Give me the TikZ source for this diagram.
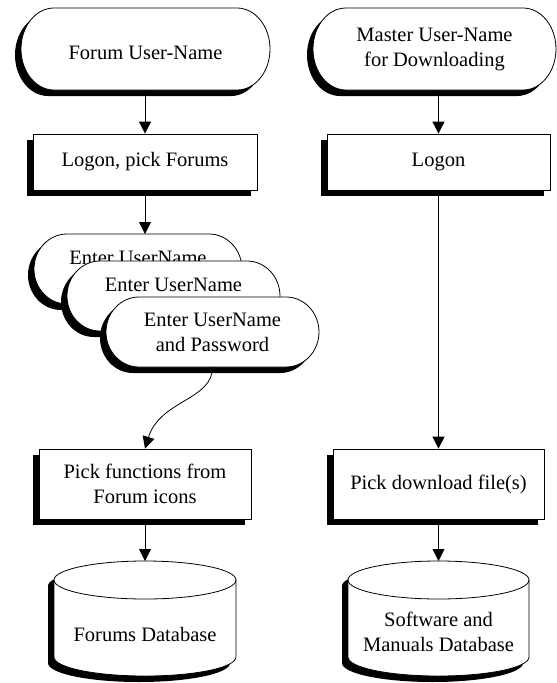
\documentclass[tikz,border=0pt]{standalone}
\usepackage{fontspec}
\setmainfont{Liberation Serif}
\usetikzlibrary{shadows,arrows.meta,calc}
\tikzset{
  shd/.style={drop shadow={shadow xshift=-6pt,shadow yshift=-6pt,opacity=1,fill=black}},
  outline/.style={draw=black,line width=0.8pt,fill=white,shd},
  txt/.style={font=\fontsize{20.5}{25}\selectfont,align=center},
  boxnode/.style={rectangle,outline,txt,inner sep=2pt},
  lbl/.style={rectangle,inner sep=0pt,outer sep=0pt,txt},
  conn/.style={draw=black,line width=0.8pt,-{Triangle[width=12pt,length=12pt]}},
}
% name, cx, cy, width, half height, text
\newcommand\termnode[6]{%
  \path[outline] ({#2-#4/2+33},{#3-#5}) -- ({#2+#4/2-33},{#3-#5})
    arc[start angle=90,end angle=-90,x radius=33pt,y radius=#5pt]
    -- ({#2-#4/2+33},{#3+#5})
    arc[start angle=270,end angle=90,x radius=33pt,y radius=#5pt] -- cycle;
  \node[lbl,minimum width={#4*1pt},minimum height={2*#5*1pt}] (#1) at (#2,#3) {#6};
}
% name, cx, top, rx, height, text, text cy
\newcommand\dbnode[7]{%
  \path[outline] ({#2-#4},{#3+19}) -- ({#2-#4},{#3+#5-19})
    arc[start angle=180,end angle=360,x radius=#4pt,y radius=19pt]
    -- ({#2+#4},{#3+19})
    arc[start angle=0,end angle=180,x radius=#4pt,y radius=19pt] -- cycle;
  \draw[line width=0.8pt] ({#2-#4},{#3+19})
    arc[start angle=180,end angle=360,x radius=#4pt,y radius=19pt];
  \coordinate (#1) at (#2,#3);
  \node[lbl] (#1t) at (#2,#7) {#6};
}
\begin{document}
\begin{tikzpicture}[x=1pt,y=-1pt]
\useasboundingbox (0,0) rectangle (557,683);

% left column
\termnode{t1}{145.5}{49}{249}{41}{\raisebox{-10pt}[0pt][0pt]{Forum User-Name}}
\node[boxnode,minimum width=224pt,minimum height=56pt] (b1) at (145,162) {Logon, pick Forums};
\termnode{e1}{138}{269}{208}{35}{\raisebox{4.5pt}[0pt][0pt]{Enter UserName}}
\termnode{e2}{173.5}{296}{213}{35}{\raisebox{4.5pt}[0pt][0pt]{Enter UserName}}
\termnode{e3}{212.5}{332}{213}{35}{Enter UserName\\and Password}
\node[boxnode,minimum width=212pt,minimum height=70pt] (b3) at (145,484) {Pick functions from\\Forum icons};
\dbnode{c1}{145}{561}{91}{115}{Forums Database}{634}

% right column
\termnode{t2}{434.5}{49}{243}{41}{Master User-Name\\for Downloading}
\node[boxnode,minimum width=223pt,minimum height=56pt] (b2) at (438.5,162) {Logon};
\node[boxnode,minimum width=211pt,minimum height=70pt] (b4) at (438.5,484) {Pick download file(s)};
\dbnode{c2}{438.5}{561}{90.5}{115}{Software and\\Manuals Database}{632}

% connectors
\draw[conn] (b1.north |- t1.south) -- (b1.north);
\draw[conn] (b1.south) -- (b1.south |- e1.north);
\draw[conn] (e3.south) .. controls (213,400) and (160,400) .. (b3.north);
\draw[conn] (b3.south) -- (c1);
\draw[conn] (b2.north |- t2.south) -- (b2.north);
\draw[conn] (b2.south) -- (b4.north);
\draw[conn] (b4.south) -- (c2);
\end{tikzpicture}
\end{document}
